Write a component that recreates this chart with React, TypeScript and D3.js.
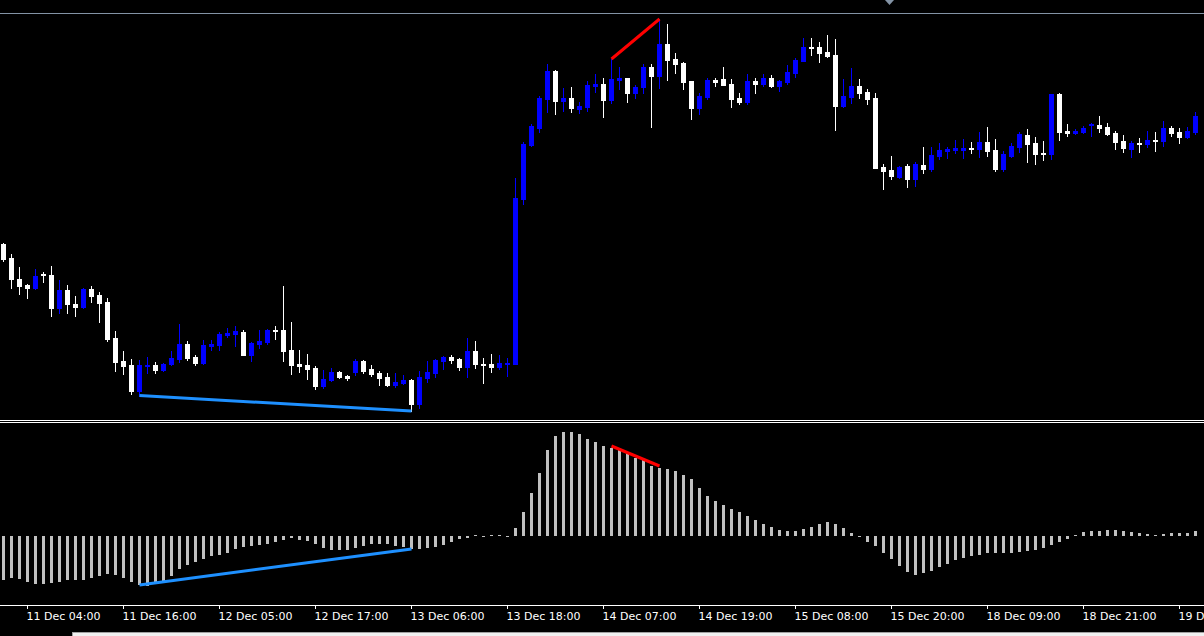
import * as d3 from "d3";

const WIDTH = 1204;
const HEIGHT = 636;

// hourly XAUUSD bars, oldest first
const opens = [
  2004.0, 2001.2, 1997.0, 1995.8, 1995.3, 1998.0, 1997.8, 1991.3, 1994.8, 1992.0,
  1991.4, 1995.0, 1993.8, 1992.4, 1985.2, 1980.6, 1979.8, 1974.6, 1979.7, 1979.8,
  1978.8, 1980.0, 1981.0, 1984.0, 1981.4, 1980.2, 1983.6, 1983.8, 1985.8, 1986.0,
  1986.4, 1981.8, 1984.0, 1984.4, 1986.8, 1986.8, 1982.8, 1980.0, 1979.8, 1979.2,
  1975.6, 1976.8, 1978.4, 1977.6, 1978.4, 1980.6, 1979.0, 1978.2, 1977.4, 1975.8,
  1976.2, 1976.8, 1972.0, 1977.2, 1978.2, 1980.6, 1981.4, 1981.0, 1979.4, 1982.6,
  1980.0, 1980.0, 1979.4, 1980.1, 1980.0, 2013.0, 2023.8, 2027.2, 2033.0, 2038.6,
  2032.6, 2033.2, 2031.0, 2031.4, 2035.6, 2036.0, 2032.8, 2036.8, 2037.2, 2034.2,
  2035.4, 2039.4, 2037.6, 2044.0, 2041.0, 2040.2, 2036.6, 2031.2, 2033.4, 2036.8,
  2037.0, 2036.0, 2033.2, 2032.4, 2036.6, 2036.0, 2037.2, 2035.6, 2036.4, 2038.2,
  2040.6, 2043.4, 2043.4, 2042.4, 2041.8, 2031.6, 2033.4, 2035.6, 2034.4, 2033.2,
  2019.4, 2018.8, 2017.4, 2019.6, 2017.0, 2019.8, 2019.0, 2021.6, 2022.6, 2022.8,
  2022.8, 2023.2, 2023.0, 2024.4, 2022.8, 2019.0, 2021.6, 2023.4, 2025.8, 2024.2,
  2022.2, 2022.0, 2034.0, 2026.6, 2026.2, 2026.4, 2027.9, 2027.8, 2027.4, 2026.2,
  2024.6, 2023.0, 2024.2, 2024.0, 2024.8, 2024.6, 2027.2, 2026.4, 2025.4, 2026.4,
];
const highs = [
  2004.3, 2002.0, 1999.4, 1996.0, 1999.0, 1998.5, 1999.6, 1996.8, 1995.8, 1993.6,
  1995.2, 1995.6, 1994.4, 1993.2, 1986.6, 1982.6, 1981.0, 1980.8, 1981.4, 1980.4,
  1980.2, 1982.6, 1988.0, 1984.6, 1981.8, 1984.8, 1984.8, 1986.4, 1987.2, 1987.6,
  1986.8, 1984.4, 1986.8, 1987.0, 1987.6, 1995.6, 1988.4, 1982.8, 1982.0, 1979.6,
  1978.8, 1979.2, 1978.6, 1977.8, 1981.0, 1980.8, 1979.8, 1978.6, 1978.2, 1978.2,
  1977.8, 1977.0, 1978.6, 1980.6, 1981.0, 1981.6, 1981.8, 1981.2, 1985.2, 1984.6,
  1981.2, 1982.0, 1981.8, 1981.2, 2017.2, 2024.4, 2028.0, 2033.6, 2040.0, 2038.8,
  2035.2, 2035.4, 2032.4, 2036.6, 2038.0, 2037.2, 2041.0, 2039.4, 2037.2, 2035.8,
  2040.0, 2040.0, 2049.0, 2048.0, 2042.2, 2040.4, 2036.6, 2034.2, 2037.2, 2037.2,
  2039.4, 2037.0, 2034.2, 2038.0, 2037.2, 2038.0, 2037.8, 2036.8, 2039.8, 2041.2,
  2045.2, 2045.2, 2044.4, 2045.8, 2045.0, 2037.0, 2039.2, 2037.0, 2035.0, 2034.2,
  2020.0, 2021.6, 2019.6, 2020.0, 2020.4, 2023.4, 2023.4, 2024.2, 2023.4, 2024.8,
  2025.0, 2024.4, 2026.4, 2027.4, 2025.0, 2022.6, 2024.2, 2026.4, 2027.0, 2025.4,
  2024.6, 2034.0, 2034.2, 2028.0, 2027.0, 2027.6, 2028.2, 2029.6, 2028.2, 2026.6,
  2025.8, 2024.6, 2025.2, 2026.6, 2026.4, 2028.6, 2027.6, 2027.2, 2027.4, 2030.4,
];
const lows = [
  2000.7, 1995.3, 1994.1, 1993.3, 1995.1, 1996.4, 1989.7, 1990.2, 1990.3, 1989.7,
  1991.3, 1992.5, 1988.5, 1984.7, 1978.7, 1978.1, 1973.9, 1973.7, 1978.3, 1978.3,
  1978.6, 1979.8, 1980.4, 1980.8, 1979.8, 1980.0, 1982.8, 1982.8, 1985.4, 1983.6,
  1981.8, 1980.6, 1983.2, 1984.0, 1985.0, 1980.6, 1978.0, 1978.4, 1977.0, 1975.0,
  1975.2, 1976.6, 1977.2, 1976.8, 1977.8, 1978.2, 1977.6, 1975.8, 1975.6, 1975.4,
  1976.0, 1970.6, 1971.3, 1976.5, 1977.4, 1979.0, 1980.2, 1978.8, 1977.4, 1979.2,
  1976.2, 1978.4, 1979.0, 1977.6, 1980.0, 2012.0, 2023.6, 2026.4, 2030.4, 2030.0,
  2030.6, 2030.4, 2030.2, 2030.6, 2034.4, 2029.4, 2032.2, 2035.0, 2032.4, 2033.2,
  2034.2, 2027.4, 2035.2, 2036.8, 2038.2, 2035.0, 2029.0, 2030.0, 2033.0, 2035.6,
  2035.8, 2031.4, 2032.0, 2032.0, 2034.2, 2035.6, 2035.4, 2034.6, 2036.0, 2037.4,
  2040.6, 2041.8, 2040.4, 2041.4, 2026.8, 2031.4, 2032.2, 2033.2, 2032.0, 2019.2,
  2015.0, 2017.0, 2017.2, 2015.4, 2015.6, 2018.2, 2018.6, 2021.0, 2021.2, 2022.2,
  2021.2, 2022.2, 2021.4, 2021.6, 2018.6, 2018.6, 2021.4, 2022.4, 2020.4, 2020.0,
  2020.8, 2021.0, 2024.8, 2025.6, 2026.0, 2026.2, 2025.6, 2026.4, 2025.8, 2023.0,
  2022.4, 2021.4, 2022.4, 2023.4, 2022.6, 2023.6, 2025.6, 2024.2, 2025.2, 2026.0,
];
const closes = [
  2001.0, 1997.0, 1995.6, 1995.3, 1997.7, 1997.9, 1991.3, 1994.8, 1991.9, 1991.4,
  1995.0, 1993.7, 1992.2, 1985.0, 1980.5, 1979.7, 1974.6, 1979.8, 1979.8, 1978.8,
  1980.0, 1981.2, 1984.0, 1981.2, 1980.2, 1983.8, 1984.0, 1986.0, 1986.2, 1986.6,
  1981.8, 1984.2, 1984.6, 1986.8, 1986.7, 1982.6, 1979.8, 1979.6, 1979.0, 1975.6,
  1977.0, 1978.4, 1977.4, 1977.2, 1980.6, 1978.6, 1978.0, 1977.2, 1975.8, 1976.4,
  1976.8, 1972.0, 1977.4, 1978.4, 1980.8, 1981.4, 1980.8, 1979.4, 1982.6, 1980.0,
  1979.8, 1979.4, 1980.2, 1980.2, 2013.2, 2024.0, 2027.6, 2033.2, 2038.6, 2032.6,
  2033.2, 2031.2, 2031.6, 2035.8, 2036.0, 2032.8, 2037.0, 2037.2, 2034.2, 2035.4,
  2039.4, 2037.6, 2044.0, 2040.8, 2040.0, 2036.4, 2031.2, 2033.6, 2036.8, 2036.4,
  2035.8, 2033.0, 2032.4, 2036.6, 2036.0, 2037.2, 2035.6, 2036.6, 2038.4, 2040.8,
  2043.4, 2043.3, 2042.2, 2041.6, 2031.6, 2033.6, 2035.6, 2034.2, 2033.0, 2019.2,
  2018.6, 2017.6, 2019.4, 2017.0, 2020.0, 2019.0, 2021.8, 2022.8, 2023.0, 2023.2,
  2023.2, 2023.1, 2024.4, 2022.6, 2019.0, 2022.0, 2023.6, 2026.0, 2024.0, 2022.0,
  2022.1, 2034.0, 2026.4, 2026.2, 2026.6, 2027.2, 2028.0, 2027.2, 2026.0, 2024.4,
  2023.2, 2024.2, 2024.0, 2024.8, 2024.7, 2027.2, 2026.2, 2025.4, 2026.6, 2029.6,
];

// MACD histogram
const macd = [
  -4.4, -4.2, -4.3, -4.6, -4.8, -4.8, -4.7, -4.6, -4.4, -4.4,
  -4.4, -4.2, -4.0, -3.8, -3.9, -4.2, -4.6, -4.9, -5.0, -4.8,
  -4.5, -4.0, -3.3, -2.9, -2.6, -2.3, -2.0, -1.9, -1.7, -1.3,
  -1.1, -1.0, -0.9, -0.8, -0.6, -0.4, -0.2, -0.4, -0.5, -0.8,
  -1.2, -1.4, -1.4, -1.4, -1.2, -1.0, -0.8, -0.8, -0.8, -1.0,
  -1.1, -1.3, -1.3, -1.2, -1.1, -0.9, -0.6, -0.3, -0.2, 0.1,
  -0.05, 0.05, 0.1, -0.05, 0.8, 2.4, 4.3, 6.3, 8.6, 10.0,
  10.4, 10.4, 10.2, 9.7, 9.4, 9.0, 8.8, 8.6, 8.4, 7.8,
  7.6, 7.0, 6.8, 6.7, 6.5, 6.1, 5.7, 4.8, 4.0, 3.5,
  3.1, 2.7, 2.4, 2.0, 1.6, 1.2, 0.9, 0.6, 0.5, 0.5,
  0.7, 0.9, 1.2, 1.4, 1.2, 0.8, 0.3, -0.05, -0.6, -1.0,
  -1.7, -2.3, -3.0, -3.6, -3.9, -3.7, -3.5, -3.1, -2.8, -2.4,
  -2.2, -2.0, -1.9, -1.7, -1.7, -1.7, -1.7, -1.6, -1.5, -1.4,
  -1.2, -0.9, -0.6, -0.3, 0.1, 0.4, 0.5, 0.5, 0.6, 0.6,
  0.5, 0.4, 0.3, 0.2, 0.1, 0.2, 0.3, 0.3, 0.3, 0.5,
];

const tickBars = [3, 15, 27, 39, 51, 63, 75, 87, 99, 111, 123, 135, 147];
const tickLabels = [
  "11 Dec 04:00", "11 Dec 16:00", "12 Dec 05:00", "12 Dec 17:00",
  "13 Dec 06:00", "13 Dec 18:00", "14 Dec 07:00", "14 Dec 19:00",
  "15 Dec 08:00", "15 Dec 20:00", "18 Dec 09:00", "18 Dec 21:00",
  "19 Dec 10:00",
];

// divergence lines: [fromBar, toBar]
const bullDiv = [17, 51];
const bearDiv = [76, 82];

const BULL = "#0000ff";
const BEAR = "#ffffff";
const DIV_BLUE = "#1e90ff";
const DIV_RED = "#ff0000";

export default function App() {
  const x = d3
    .scaleLinear()
    .domain([0, opens.length - 1])
    .range([3.5, 3.5 + (opens.length - 1) * 8]);

  const yPrice = d3.scaleLinear().domain([1969.2, 2052.8]).range([418, 0]);
  const yMacd = d3.scaleLinear().domain([-6.9, 11.3]).range([605, 423]);

  const zero = Math.round(yMacd(0));

  return (
    <div style={{ position: "fixed", left: 0, top: 0 }}>
      <svg width={WIDTH} height={HEIGHT} style={{ display: "block", background: "#000" }}>
        <rect x={0} y={0} width={WIDTH} height={HEIGHT} fill="#000" />

        {/* top border + shift marker */}
        <line x1={0} x2={WIDTH} y1={13.5} y2={13.5} stroke="#8393a5" />
        <path d="M885,0 L894,0 L889.5,5 Z" fill="#8393a5" />

        {/* candles */}
        {opens.map((o, i) => {
          const c = closes[i];
          const up = c > o;
          const color = up ? BULL : BEAR;
          const cx = Math.round(x(i) - 0.5);
          const top = Math.round(yPrice(Math.max(o, c)));
          const bot = Math.round(yPrice(Math.min(o, c)));
          const hi = Math.round(yPrice(highs[i]));
          const lo = Math.round(yPrice(lows[i]));
          return (
            <g key={i}>
              <rect x={cx} y={hi} width={1} height={Math.max(1, lo - hi + 1)} fill={color} />
              <rect x={cx - 2} y={top} width={5} height={Math.max(1, bot - top + 1)} fill={color} />
            </g>
          );
        })}

        {/* price divergence lines */}
        <line
          x1={x(bullDiv[0])}
          y1={yPrice(lows[bullDiv[0]])}
          x2={x(bullDiv[1])}
          y2={yPrice(lows[bullDiv[1]])}
          stroke={DIV_BLUE}
          strokeWidth={3}
        />
        <line
          x1={x(bearDiv[0])}
          y1={yPrice(highs[bearDiv[0]])}
          x2={x(bearDiv[1])}
          y2={yPrice(highs[bearDiv[1]])}
          stroke={DIV_RED}
          strokeWidth={3}
        />

        {/* panel separator */}
        <line x1={0} x2={WIDTH} y1={420.5} y2={420.5} stroke="#ffffff" />
        <line x1={0} x2={WIDTH} y1={422.5} y2={422.5} stroke="#ffffff" />

        {/* MACD histogram */}
        {macd.map((v, i) => {
          const yv = Math.round(yMacd(v));
          const y0 = v >= 0 ? Math.min(yv, zero - 1) : zero;
          const h = v >= 0 ? zero - y0 : Math.max(1, yv - zero);
          return (
            <rect
              key={i}
              x={Math.round(x(i) - 1.5)}
              y={y0}
              width={3}
              height={h}
              fill="#c0c0c0"
            />
          );
        })}

        {/* histogram divergence lines */}
        <line
          x1={x(bullDiv[0])}
          y1={yMacd(macd[bullDiv[0]])}
          x2={x(bullDiv[1])}
          y2={yMacd(macd[bullDiv[1]])}
          stroke={DIV_BLUE}
          strokeWidth={3}
        />
        <line
          x1={x(bearDiv[0])}
          y1={yMacd(macd[bearDiv[0]]) - 2}
          x2={x(bearDiv[1])}
          y2={yMacd(macd[bearDiv[1]]) - 2}
          stroke={DIV_RED}
          strokeWidth={3}
        />

        {/* time axis */}
        <line x1={0} x2={WIDTH} y1={605.5} y2={605.5} stroke="#ffffff" />
        {tickBars.map((b, k) => (
          <g key={k}>
            <line x1={x(b)} x2={x(b)} y1={606} y2={609} stroke="#ffffff" />
            <text
              x={x(b) - 1}
              y={620}
              fill="#ffffff"
              fontFamily="DejaVu Sans, sans-serif"
              fontSize={11}
            >
              {tickLabels[k]}
            </text>
          </g>
        ))}

        {/* status strip */}
        <rect x={72} y={633} width={WIDTH - 72} height={3} fill="#f0f0f0" />
        <line x1={72} x2={WIDTH} y1={632.5} y2={632.5} stroke="#a0a0a0" />
        <line x1={72.5} x2={72.5} y1={632} y2={636} stroke="#a0a0a0" />
      </svg>
    </div>
  );
}
